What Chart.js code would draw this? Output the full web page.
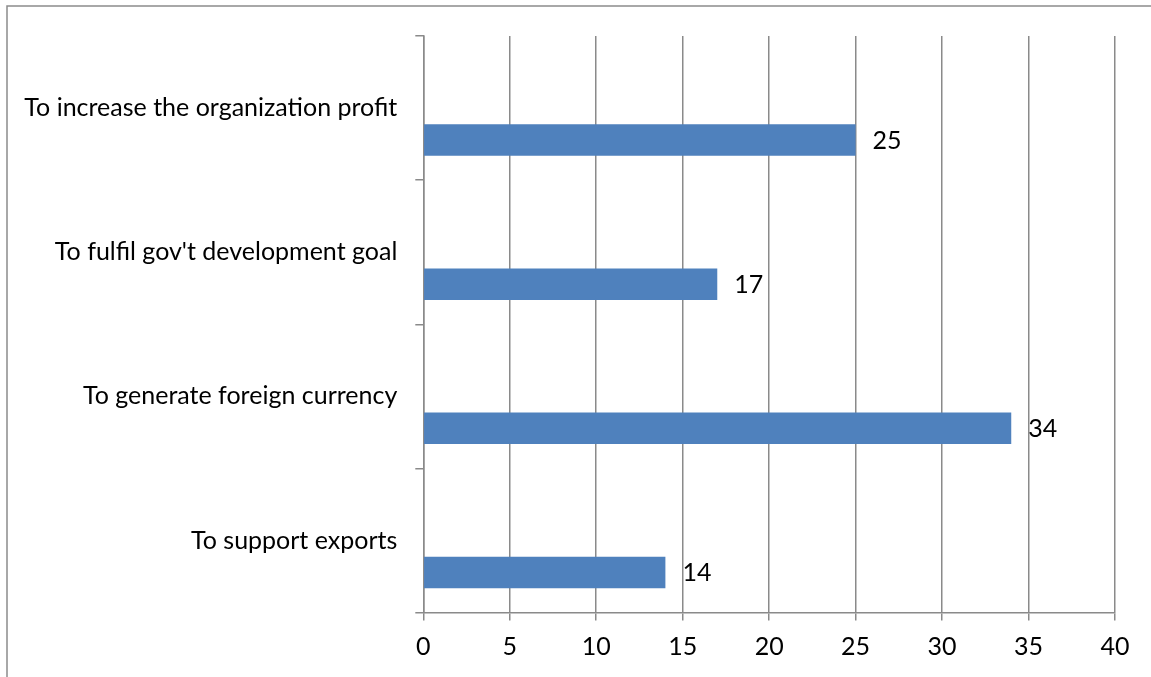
<!DOCTYPE html>
<html>
<head>
<meta charset="utf-8">
<script src="https://cdn.jsdelivr.net/npm/chart.js@4/dist/chart.umd.min.js"></script>
<style>
  html, body { margin: 0; padding: 0; background: #ffffff; }
  #wrap { width: 1151px; height: 677px; position: relative; }
</style>
</head>
<body>
<div id="wrap"><canvas id="c" width="1151" height="677"></canvas></div>
<script>
// Categories, top to bottom
const categories = [
  "To increase the organization profit",
  "To fulfil gov't development goal",
  "To generate foreign currency",
  "To support exports"
];
// Responses per reason
const responses = [25, 17, 34, 14];
// Second, empty series of the workbook (keeps its slot in each category)
const emptySeries = [null, null, null, null];
// Value axis ticks
const xTicks = [0, 5, 10, 15, 20, 25, 30, 35, 40];

const FONT = "Lato, 'Open Sans', sans-serif";
const FONT_SIZE = 25;
const GRID = "#8a8a8a";

// Outer frame of the chart object
const framePlugin = {
  id: 'frame',
  beforeDraw(chart) {
    const ctx = chart.ctx;
    ctx.save();
    ctx.fillStyle = '#ffffff';
    ctx.fillRect(0, 0, chart.width, chart.height);
    ctx.strokeStyle = '#8c8c8c';
    ctx.lineWidth = 1.5;
    ctx.beginPath();
    ctx.moveTo(7, chart.height + 5);
    ctx.lineTo(7, 6);
    ctx.lineTo(chart.width + 5, 6);
    ctx.stroke();
    ctx.restore();
  }
};

// Value labels just past the end of each bar
const valueLabels = {
  id: 'valueLabels',
  afterDatasetsDraw(chart) {
    const ctx = chart.ctx;
    ctx.save();
    ctx.font = FONT_SIZE + "px " + FONT;
    ctx.fillStyle = '#000000';
    ctx.textAlign = 'left';
    ctx.textBaseline = 'middle';
    const meta = chart.getDatasetMeta(1);
    meta.data.forEach((bar, i) => {
      const v = chart.data.datasets[1].data[i];
      if (v == null) return;
      ctx.fillText(String(v), bar.x + 17, bar.y + 1);
    });
    ctx.restore();
  }
};

new Chart(document.getElementById('c'), {
  type: 'bar',
  data: {
    labels: categories,
    datasets: [
      { label: 'Series 2', data: emptySeries, backgroundColor: '#c0504d' },
      { label: 'Series 1', data: responses, backgroundColor: '#4f81bd', borderWidth: 0 }
    ]
  },
  options: {
    indexAxis: 'y',
    responsive: false,
    animation: false,
    devicePixelRatio: 1,
    categoryPercentage: 0.888,
    barPercentage: 0.492,
    layout: { padding: { top: 36, right: 36, left: 0, bottom: 0 } },
    plugins: {
      legend: { display: false },
      tooltip: { enabled: false }
    },
    scales: {
      x: {
        type: 'linear',
        min: 0,
        max: 40,
        afterBuildTicks(scale) { scale.ticks = xTicks.map(v => ({ value: v })); },
        afterFit(scale) { scale.height = 64.5; },
        grid: {
          color: GRID,
          lineWidth: 1.5,
          drawTicks: true,
          tickLength: 8,
          tickColor: GRID
        },
        border: { display: true, color: GRID, width: 1.5 },
        ticks: {
          color: '#000000',
          font: { family: FONT, size: FONT_SIZE },
          padding: 11,
          maxRotation: 0
        }
      },
      y: {
        type: 'category',
        offset: true,
        afterFit(scale) { scale.width = 423.3; },
        grid: {
          offset: true,
          drawOnChartArea: false,
          drawTicks: true,
          tickLength: 8,
          color: GRID,
          lineWidth: 1.5
        },
        border: { display: true, color: GRID, width: 1.5 },
        ticks: {
          color: '#000000',
          font: { family: FONT, size: FONT_SIZE },
          padding: 18,
          autoSkip: false
        }
      }
    }
  },
  plugins: [framePlugin, valueLabels]
});
</script>
</body>
</html>
